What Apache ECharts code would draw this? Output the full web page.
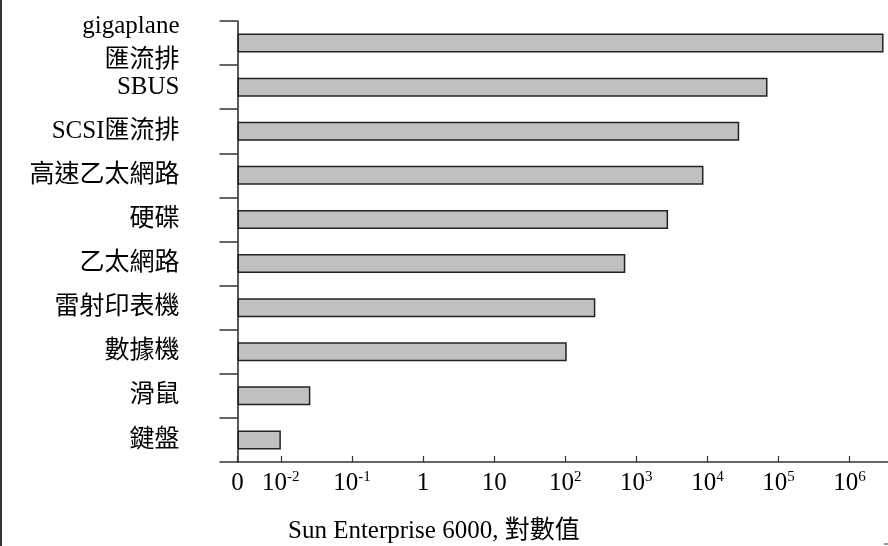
<!DOCTYPE html>
<html>
<head>
<meta charset="utf-8">
<script src="https://cdn.jsdelivr.net/npm/echarts@6/dist/echarts.min.js"></script>
<style>
html, body { margin: 0; padding: 0; background: #fff; }
#main { width: 888px; height: 546px; }
</style>
</head>
<body>
<div id="main"></div>
<script>
// devices, top to bottom
var categories = ['gigaplane\n匯流排', 'SBUS', 'SCSI匯流排', '高速乙太網路', '硬碟', '乙太網路', '雷射印表機', '數據機', '滑鼠', '鍵盤'];
// data rates
var rates = [3.0e6, 7.0e4, 2.8e4, 8.8e3, 2.8e3, 700, 265, 105, 0.026, 0.01];
// x axis: a "0" tick, then decades 10^-2 .. 10^6
var tickExponents = [-2, -1, 0, 1, 2, 3, 4, 5, 6];
var tickLabels = ['0', '10^-2', '10^-1', '1', '10', '10^2', '10^3', '10^4', '10^5', '10^6'];

var ZERO_GAP = 0.61; // decades between "0" and 10^-2
var SERIF = '"Liberation Serif", "Noto Sans CJK TC", serif';

function toAxis(v) {
    return Math.log10(v) + 2 + ZERO_GAP;
}

var tickPos = [0].concat(tickExponents.map(function (e) { return e + 2 + ZERO_GAP; }));

var myChart = echarts.init(document.getElementById('main'));

var option = {
    backgroundColor: '#fff',
    animation: false,
    grid: { left: 237.5, right: 0, top: 21, bottom: 84, containLabel: false },
    xAxis: {
        type: 'value',
        min: 0,
        max: 9.15,
        splitLine: { show: false },
        axisLine: { show: true, lineStyle: { color: '#333', width: 1.5 } },
        axisTick: {
            show: true, inside: true, length: 6,
            customValues: tickPos,
            lineStyle: { color: '#333', width: 1.2 }
        },
        axisLabel: {
            customValues: tickPos,
            margin: 8,
            hideOverlap: false,
            formatter: function (val) {
                var best = 0;
                for (var i = 1; i < tickPos.length; i++) {
                    if (Math.abs(tickPos[i] - val) < Math.abs(tickPos[best] - val)) best = i;
                }
                var parts = tickLabels[best].split('^');
                if (parts.length === 1) return '{b|' + parts[0] + '}';
                return '{b|' + parts[0] + '}{s|' + parts[1] + '}';
            },
            rich: {
                b: { fontFamily: SERIF, fontSize: 25, color: '#000', lineHeight: 26 },
                s: { fontFamily: SERIF, fontSize: 15, color: '#000', verticalAlign: 'top', lineHeight: 16 }
            }
        }
    },
    yAxis: {
        type: 'category',
        inverse: true,
        data: categories,
        axisLine: { show: true, lineStyle: { color: '#222', width: 1.5 } },
        axisTick: { show: true, length: 18, lineStyle: { color: '#333', width: 1.5 } },
        axisLabel: {
            interval: 0,
            hideOverlap: false,
            margin: 58,
            fontFamily: SERIF,
            fontSize: 25,
            lineHeight: 34,
            color: '#000'
        }
    },
    series: [{
        type: 'bar',
        barWidth: 19,
        data: rates.map(toAxis),
        itemStyle: { color: '#c0c0c0', borderColor: '#222', borderWidth: 1.5 }
    }],
    graphic: [
        {
            type: 'line',
            shape: { x1: 1, y1: 0, x2: 1, y2: 546 },
            style: { stroke: '#333', lineWidth: 2 }
        },
        {
            type: 'line',
            shape: { x1: 884, y1: 544, x2: 888, y2: 544 },
            style: { stroke: '#333', lineWidth: 1 }
        },
        {
            type: 'text',
            x: 288, y: 531,
            style: {
                text: 'Sun Enterprise 6000, 對數值',
                fontFamily: SERIF,
                fontSize: 25,
                fill: '#000',
                verticalAlign: 'middle'
            }
        }
    ]
};

myChart.setOption(option);
</script>
</body>
</html>
